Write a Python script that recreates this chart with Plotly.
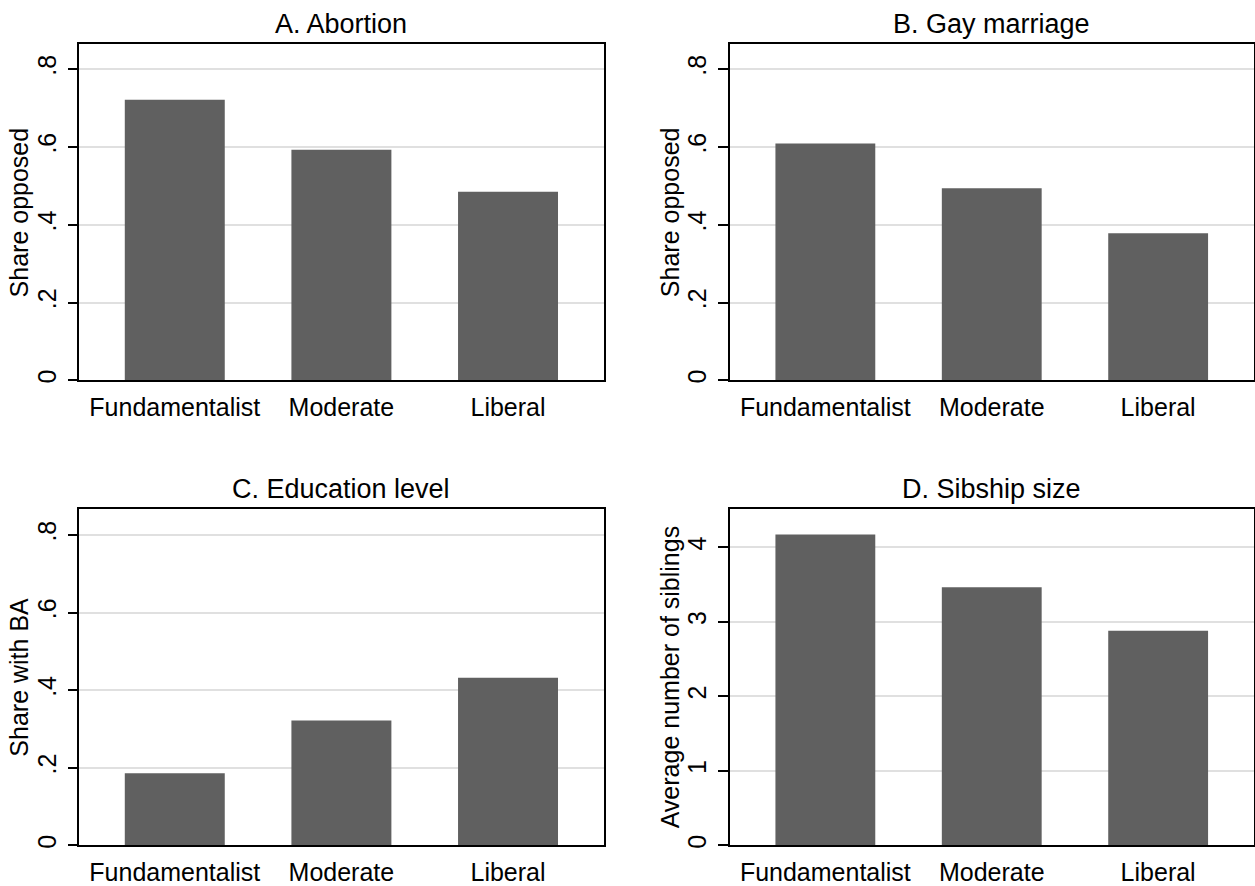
import plotly.graph_objects as go

categories = ["Fundamentalist", "Moderate", "Liberal"]
abortion = [0.721, 0.593, 0.485]
gay_marriage = [0.609, 0.494, 0.378]
education = [0.186, 0.322, 0.432]
siblings = [4.174, 3.465, 2.88]

titles = ["A. Abortion", "B. Gay marriage", "C. Education level", "D. Sibship size"]
ytitles = ["Share opposed", "Share opposed", "Share with BA", "Average number of siblings"]
share_ticks = [0, 0.2, 0.4, 0.6, 0.8]
share_labels = ["0", ".2", ".4", ".6", ".8"]
sib_ticks = [0, 1, 2, 3, 4]
sib_labels = ["0", "1", "2", "3", "4"]

W, H = 1255, 886
FONT = "Liberation Sans, Arial, Helvetica, sans-serif"
BAR = "#606060"

# pixel boxes of plot areas: (left, right, top, bottom)
boxes = [(79.3, 603.5, 44, 381.7), (730, 1253.5, 44, 381.7),
         (79.3, 603.5, 511, 848.3), (730, 1253.5, 511, 848.3)]
series = [abortion, gay_marriage, education, siblings]
yranges = [[0, 0.8648], [0, 0.8648], [0, 0.866], [0, 4.512]]
yticks = [(share_ticks, share_labels)] * 3 + [(sib_ticks, sib_labels)]

fig = go.Figure()
layout = dict(width=W, height=H, margin=dict(l=0, r=0, t=0, b=0),
              paper_bgcolor="white", plot_bgcolor="white", showlegend=False,
              font=dict(family=FONT, size=25, color="black"), bargap=0.4)
annotations = []
for i, (vals, box) in enumerate(zip(series, boxes)):
    n = "" if i == 0 else str(i + 1)
    fig.add_trace(go.Bar(x=categories, y=vals, marker=dict(color=BAR, line=dict(width=0)),
                         width=0.6, xaxis="x" + n, yaxis="y" + n, hoverinfo="skip"))
    l, r, t, b = box
    xd = [l / W, r / W]
    yd = [(H - b) / H, (H - t) / H]
    layout["xaxis" + n] = dict(domain=xd, anchor="y" + n, type="category",
                               range=[-0.573, 2.573], showline=True, linecolor="black",
                               linewidth=1.5, mirror=True, ticks="", showgrid=False,
                               zeroline=False, tickfont=dict(size=25, color="black"),
                               ticklabelstandoff=4)
    tv, tt = yticks[i]
    layout["yaxis" + n] = dict(domain=yd, anchor="x" + n, range=yranges[i],
                               tickvals=tv, ticktext=tt, tickangle=-90,
                               showline=True, linecolor="black", linewidth=1.5, mirror=True,
                               ticks="outside", ticklen=10, tickwidth=1.5, tickcolor="black",
                               showgrid=True, gridcolor="#e0e0e0", gridwidth=1.5,
                               zeroline=False, tickfont=dict(size=25, color="black"),
                               ticklabelstandoff=2)
    # panel title
    annotations.append(dict(text=titles[i], x=(l + r) / 2 / W, y=(H - (t - 20)) / H,
                            xref="paper", yref="paper", xanchor="center", yanchor="middle",
                            showarrow=False, font=dict(size=27, color="black", family=FONT)))
    # y-axis title
    annotations.append(dict(text=ytitles[i], x=(l - 60) / W, y=(H - (t + b) / 2) / H,
                            xref="paper", yref="paper", xanchor="center", yanchor="middle",
                            textangle=-90, showarrow=False,
                            font=dict(size=25, color="black", family=FONT)))
layout["annotations"] = annotations
fig.update_layout(**layout)
fig.write_html("out.html")
